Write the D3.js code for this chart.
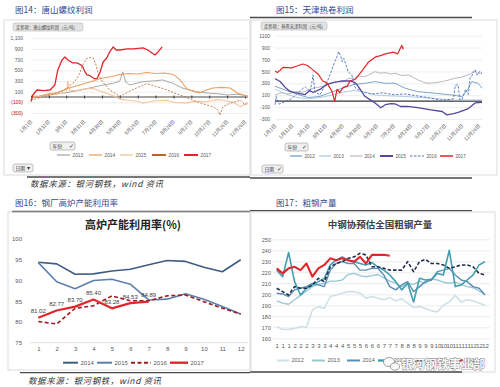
<!DOCTYPE html>
<html>
<head>
  <meta charset='utf-8'>
  <title>钢铁利润与产量</title>
  <script src='https://cdn.jsdelivr.net/npm/d3@7/dist/d3.min.js'></script>
  <style type='text/css'>
    body { margin: 0; background: #fff; }
    svg { display: block; }
  </style>
</head>
<body>
  <svg id='sheet' width='500' height='387'></svg>
  <script>
    // shared day-of-year ticks for the two profit charts
    const dateTicks = [1, 31, 60, 90, 120, 150, 180, 210, 240, 270, 300, 330, 360];
    const dateLabels = ['1月1日', '1月31日', '3月1日', '3月31日', '4月30日', '5月30日', '6月29日',
        '7月29日', '8月28日', '9月27日', '10月27日', '11月26日', '12月26日'];
    const profitTicks = [-300, -100, 100, 300, 500, 700, 900, 1100];

    // 图14 唐山螺纹利润 [day, 元/吨]
    const rebar2013 = [[1, -20], [20, 20], [40, 50], [60, 80], [80, 120], [100, 170], [120, 220], [140, 260],
        [150, 300], [155, 470], [160, 280], [167, 225], [189, 288], [205, 300], [222, 319], [239, 256],
        [256, 163], [279, 100], [301, 69], [315, 60], [330, 38], [345, 50], [357, 38], [365, 20]];
    const rebar2014 = [[1, -20], [15, 20], [30, 60], [45, 80], [60, 150], [75, 200], [90, 250], [105, 300],
        [120, 350], [135, 380], [150, 420], [165, 440], [180, 430], [195, 460], [210, 440], [225, 450],
        [240, 420], [250, 330], [263, 150], [275, 100], [284, 75], [295, 130], [306, 169], [320, 180],
        [335, 169], [347, 75], [356, 40], [365, 0]];
    const rebar2015 = [[1, 30], [15, 10], [30, 40], [45, 60], [60, 80], [63, 300], [66, 120], [75, 120],
        [90, 150], [105, 160], [120, 100], [130, 60], [140, 20], [150, -40], [165, -60], [180, -80],
        [189, -119], [195, -100], [210, -70], [229, -60], [240, -100], [263, -110], [275, -80], [296, -90],
        [310, -50], [323, -60], [340, -100], [352, -181], [365, -100]];
    const rebar2016 = [[1, -60], [10, -30], [25, 20], [40, 60], [55, 120], [65, 200], [75, 300], [82, 420],
        [88, 600], [94, 720], [100, 740], [106, 730], [110, 600], [114, 420], [120, 300], [133, 131],
        [150, 10], [165, 100], [180, 180], [195, 250], [210, 200], [225, 150], [240, 80], [255, 20],
        [270, -50], [279, -88], [296, -150], [306, -181], [315, -244], [318, -338], [323, -181],
        [335, -119], [352, -56], [360, -150], [365, -120]];
    const rebar2017 = [[1, -88], [4, 38], [11, 131], [22, 120], [33, 131], [41, 225], [46, 506], [53, 694],
        [58, 750], [63, 694], [71, 638], [78, 638], [85, 600], [88, 563], [91, 480], [95, 413], [100, 400],
        [103, 375], [108, 338], [112, 350], [117, 469], [122, 656], [128, 731], [133, 844], [139, 938],
        [144, 881], [150, 881], [162, 900], [172, 900], [189, 919], [197, 881], [204, 825], [209, 788],
        [214, 844], [221, 938]];

    // 图15 天津热卷利润 [day, 元/吨]
    const hrc2012 = [[1, 250], [15, 200], [30, 150], [45, 100], [60, 60], [80, 80], [100, 150], [120, 220],
        [140, 280], [160, 301], [177, 328], [195, 300], [212, 301], [230, 217], [252, 160], [282, 133],
        [312, 104], [330, 76], [340, 200], [347, 328], [358, 301], [365, 217]];
    const hrc2013 = [[1, 200], [20, 120], [40, 60], [60, 40], [80, 60], [100, 100], [120, 150], [140, 180],
        [160, 150], [177, 104], [200, 90], [235, 76], [260, 60], [282, 49], [300, 30], [317, 20],
        [340, 20], [365, 20]];
    const hrc2014 = [[1, 100], [12, 140], [25, 120], [38, 160], [50, 150], [62, 200], [75, 230], [90, 260],
        [100, 300], [110, 330], [120, 320], [130, 380], [140, 390], [150, 420], [158, 410], [165, 440],
        [177, 496], [186, 470], [195, 480], [205, 455], [212, 469], [224, 430], [235, 440], [244, 400],
        [252, 356], [262, 320], [270, 300], [282, 310], [295, 328], [305, 350], [317, 385], [328, 400],
        [340, 440], [347, 470], [353, 496], [360, 460], [365, 470]];
    const hrc2015 = [[1, 380], [3, 368], [10, 330], [19, 231], [27, 168], [36, 145], [54, 111], [62, 180],
        [68, 145], [80, 197], [92, 282], [103, 311], [119, 339], [133, 339], [142, 311], [147, 253],
        [159, 82], [168, 26], [177, -31], [187, -111], [195, -60], [205, -40], [212, -45], [222, -90],
        [234, -89], [252, -110], [275, -145], [295, -174], [303, -231], [315, -210], [323, -190],
        [340, -130], [353, -30], [365, -20]];
    const hrc2016 = [[1, -60], [3, 80], [8, -50], [19, -8], [30, 40], [41, 138], [54, 244], [63, 160],
        [68, 440], [71, 160], [80, 104], [89, 272], [94, 356], [101, 524], [106, 664], [110, 748],
        [113, 832], [117, 748], [119, 664], [122, 720], [128, 553], [129, 496], [136, 440], [142, 222],
        [154, 160], [170, 120], [190, 140], [210, 110], [230, 120], [250, 90], [270, 60], [290, 20],
        [300, 20], [315, 40], [318, 270], [323, 272], [326, 20], [330, 30], [336, 200], [341, 110],
        [344, 400], [347, 420], [350, 500], [353, 530], [356, 440], [358, 450], [361, 500], [365, 470]];
    const hrc2017 = [[1, 509], [5, 480], [10, 520], [15, 567], [30, 560], [41, 595], [50, 624], [58, 600],
        [66, 538], [77, 453], [85, 339], [92, 311], [101, 168], [106, -3], [110, 197], [115, 145],
        [121, 231], [128, 253], [133, 339], [142, 368], [154, 509], [165, 653], [177, 739], [188, 770],
        [195, 795], [209, 824], [217, 795], [221, 880], [224, 937], [226, 880], [227, 900]];

    // 图16 高炉产能利用率 (%)
    const months = [1, 2, 3, 4, 5, 6, 7, 8, 9, 10, 11, 12];
    const bfTicks = [75, 80, 85, 90, 95, 100];
    const bf2014 = [94.4, 94.0, 91.5, 91.6, 92.3, 92.7, 93.8, 94.8, 94.6, 93.2, 92.1, 95.0];
    const bf2015 = [94.3, 89.7, 88.0, 90.0, 90.3, 89.1, 85.3, 85.5, 86.8, 85.5, 83.7, 81.9];
    const bf2016 = [80.1, 79.5, 83.3, 83.9, 86.3, 85.1, 85.1, 86.3, 86.5, 84.9, 83.3, 81.9];
    const bf2017 = [81.02, 82.77, 83.70, 85.40, 83.28, 84.53, 84.89];

    // 图17 中钢协预估全国粗钢产量, three readings per month
    const dekadLabels = ['1', '1', '1', '2', '2', '2', '3', '3', '3', '4', '4', '4', '5', '5', '5', '6', '6', '6',
        '7', '7', '7', '8', '8', '8', '9', '9', '9', '10', '10', '10', '11', '11', '11', '12', '12', '12'];
    const steelTicks = [160, 170, 180, 190, 200, 210, 220, 230, 240, 250];
    const steel2012 = [170.6, 168, 168, 169, 170.6, 170, 185.8, 188.8, 187.3, 198, 199.4, 201, 202.4, 202.4,
        201, 196.4, 198, 196.4, 195, 197, 194, 196, 192, 188, 189, 187, 185, 184, 190, 193, 199, 193, 195, 194,
        192, 190];
    const steel2013 = [194, 192, 191, 195, 199, 203, 207, 209, 210, 212, 212, 213, 218, 219, 217, 216, 217, 218,
        215, 212, 210, 207, 210, 209, 212, 210, 214, 213, 211, 210, 211, 209, 207, 206, 203, 200];
    const steel2014 = [201, 200.3, 198, 204, 205.5, 207, 210, 208.5, 207, 222, 228, 229.7, 228, 228, 222, 222,
        223.6, 223.6, 217.6, 207, 204, 208.5, 211.5, 202.4, 207, 211.5, 213, 220.6, 222, 223.6, 217.6, 213,
        211.5, 207, 205.5, 199.4];
    const steel2015 = [222, 216, 238, 211.5, 199.4, 205.5, 208.5, 211.5, 214.5, 226.7, 231, 234, 231, 229.7,
        228, 226.7, 228.8, 225, 222, 217.6, 211.5, 204, 210, 193, 214.5, 213, 213.6, 219, 217.6, 240, 207,
        208.5, 213, 217.6, 226.7, 229.7];
    const steel2016 = [205.5, 202.4, 199.4, 207, 205.5, 205.5, 208.5, 214.5, 211.5, 225, 228, 229.7, 232.7,
        234, 237.3, 235.8, 225, 225, 223.6, 222, 222, 222, 229.7, 220.6, 229.7, 231.8, 228, 228, 226.7, 223.6,
        225, 226.7, 226.7, 225, 219, 217.6];
    const steel2017 = [223.6, 219, 223.6, 225, 222, 228, 216, 223.6, 226.7, 232.7, 231, 232.7, 231, 229.7,
        234, 228, 235.8, 235.8, 236, 235];

    const svg = d3.select('#sheet');
    const cjk = "'Noto Sans CJK SC', sans-serif";
    const num = "'Liberation Sans', Arial, sans-serif";

    function frame(x, y, w, h) {
        svg.append('rect')
            .attr('x', x).attr('y', y).attr('width', w).attr('height', h)
            .attr('fill', 'none').attr('stroke', '#d2d2d2').attr('stroke-width', 0.8);
    }

    function rule(x1, x2, y) {
        svg.append('line')
            .attr('x1', x1).attr('x2', x2).attr('y1', y).attr('y2', y)
            .attr('stroke', '#4a4a4a').attr('stroke-width', 1.3);
    }

    function caption(x, y, text) {
        svg.append('text')
            .attr('x', x).attr('y', y)
            .attr('font-family', cjk).attr('font-size', 8.5).attr('fill', '#2f4a94')
            .text(text);
    }

    function source(x, y) {
        svg.append('text')
            .attr('x', x).attr('y', y)
            .attr('font-family', cjk).attr('font-size', 8.5).attr('font-style', 'italic')
            .attr('fill', '#333').attr('letter-spacing', 0.6)
            .text('数据来源：银河钢铁，wind 资讯');
    }

    // small widget buttons of the terminal screenshots
    function button(x, y, w, label, mark) {
        const b = svg.append('g');
        b.append('rect')
            .attr('x', x).attr('y', y).attr('width', w).attr('height', 8).attr('rx', 2)
            .attr('fill', '#f0f0f0').attr('stroke', '#9c9c9c').attr('stroke-width', 0.6);
        b.append('text')
            .attr('x', x + 2.5).attr('y', y + 5.8)
            .attr('font-family', cjk).attr('font-size', 4.8).attr('fill', '#333')
            .text(label);
        b.append('text')
            .attr('x', x + w - 6).attr('y', y + 6)
            .attr('font-family', num).attr('font-size', 5.5).attr('fill', '#333')
            .text(mark);
    }

    function legend(items, y) {
        items.forEach(it => {
            svg.append('line')
                .attr('x1', it.x).attr('x2', it.x + it.len).attr('y1', y).attr('y2', y)
                .attr('stroke', it.color).attr('stroke-width', it.lw)
                .attr('stroke-dasharray', it.dash || null);
            svg.append('text')
                .attr('x', it.x + it.len + 2.5).attr('y', y).attr('dy', '0.35em')
                .attr('font-family', num).attr('font-size', it.fs).attr('fill', '#595959')
                .text(it.label);
        });
    }

    // draws one of the two daily profit charts
    function profitChart(o) {
        const x = d3.scaleLinear().domain([1, 365]).range(o.xRange);
        const y = d3.scaleLinear().domain([-300, 1100]).range(o.yRange);
        const [x0, x1] = o.xRange;
        const g = svg.append('g');

        const yAxis = g.append('g')
            .attr('transform', `translate(${x0},0)`)
            .call(d3.axisLeft(y).tickValues(profitTicks).tickFormat(o.fmt)
                .tickSize(-(x1 - x0)).tickPadding(o.labelPad));
        yAxis.select('.domain').remove();
        yAxis.selectAll('line').attr('stroke', '#e2e2e2').attr('stroke-width', 0.6);
        yAxis.selectAll('text')
            .attr('font-family', num).attr('font-size', 5)
            .attr('fill', d => d < 0 ? o.negColor : '#595959');

        g.append('line')
            .attr('x1', x0).attr('x2', x1).attr('y1', y(0)).attr('y2', y(0))
            .attr('stroke', o.zeroColor).attr('stroke-width', o.zeroWidth);
        if (o.zeroTicks) {
            const zt = g.append('g')
                .attr('transform', `translate(0,${y(0) - 1.5})`)
                .call(d3.axisBottom(x).tickValues(dateTicks).tickSize(3).tickFormat(''));
            zt.select('.domain').remove();
            zt.selectAll('line').attr('stroke', '#1a1a1a').attr('stroke-width', 0.8);
        }

        const line = d3.line().x(d => x(d[0])).y(d => y(d[1]));
        o.series.forEach(s => {
            g.append('path')
                .datum(s.data)
                .attr('d', line)
                .attr('fill', 'none')
                .attr('stroke', s.color)
                .attr('stroke-width', s.width)
                .attr('stroke-dasharray', s.dash || null)
                .attr('stroke-linejoin', 'round');
        });

        const xAxis = g.append('g')
            .attr('transform', `translate(0,${o.xLabelY})`)
            .call(d3.axisBottom(x).tickValues(dateTicks)
                .tickFormat((d, i) => dateLabels[i]).tickSize(0).tickPadding(0));
        xAxis.select('.domain').remove();
        xAxis.selectAll('text')
            .attr('y', 0).attr('dy', '0.35em')
            .attr('transform', 'rotate(-45)')
            .attr('text-anchor', 'end')
            .attr('font-family', cjk).attr('font-size', 5).attr('fill', '#595959');

        // title tag in the top left corner
        svg.append('rect')
            .attr('x', o.tag[0]).attr('y', o.tag[1]).attr('width', o.tag[2]).attr('height', 8).attr('rx', 2)
            .attr('fill', '#e4e4e4').attr('stroke', '#b5b5b5').attr('stroke-width', 0.6);
        svg.append('text')
            .attr('x', o.tag[0] + 3).attr('y', o.tag[1] + 5.6)
            .attr('font-family', cjk).attr('font-size', 4.3).attr('fill', '#444')
            .text(o.tagText);
    }

    // ---- 图14 ----
    frame(4, 20, 246, 155);
    caption(15, 13, '图14：唐山螺纹利润');
    profitChart({
        xRange: [31, 248], yRange: [113, 38.3], labelPad: 8, xLabelY: 121,
        fmt: d => d < 0 ? `(${-d})` : d3.format(',')(d), negColor: '#c00000',
        zeroColor: '#1a1a1a', zeroWidth: 0.8, zeroTicks: true,
        tag: [13, 23, 70], tagText: '走势项：唐山螺纹利润（元/吨）',
        series: [
            { data: rebar2013, color: '#a9a9a9', width: 1 },
            { data: rebar2015, color: '#f6c49a', width: 1.1 },
            { data: rebar2014, color: '#ee9f63', width: 1.1 },
            { data: rebar2016, color: '#b8652a', width: 0.8, dash: '2,1.5' },
            { data: rebar2017, color: '#e0262b', width: 1.3 }
        ]
    });
    button(50, 142, 25, '年份', '✓');
    button(13, 164, 20, '日期', '▾');
    legend([
        { x: 57, len: 13, color: '#a9a9a9', lw: 1.3, label: '2013', fs: 4.8 },
        { x: 89, len: 13, color: '#ee9f63', lw: 1.3, label: '2014', fs: 4.8 },
        { x: 120, len: 13, color: '#f6c49a', lw: 1.3, label: '2015', fs: 4.8 },
        { x: 152, len: 14, color: '#b8652a', lw: 2, label: '2016', fs: 4.8 },
        { x: 184, len: 14, color: '#e0262b', lw: 2, label: '2017', fs: 4.8 }
    ], 155);
    rule(27, 250, 177);
    source(30, 187);

    // ---- 图15 ----
    frame(251, 20, 246, 155);
    caption(276, 13, '图15：天津热卷利润');
    rule(250, 472, 17.5);
    profitChart({
        xRange: [275, 482], yRange: [119, 35.7], labelPad: 5, xLabelY: 125,
        fmt: d => String(d), negColor: '#595959',
        zeroColor: '#333', zeroWidth: 1.3, zeroTicks: false,
        tag: [261, 22, 66], tagText: '走势项：热卷天津利润（元/吨）',
        series: [
            { data: hrc2013, color: '#a9c6e4', width: 0.9 },
            { data: hrc2012, color: '#6f9ac4', width: 0.9 },
            { data: hrc2014, color: '#b9b9bf', width: 1 },
            { data: hrc2015, color: '#55479b', width: 1.3 },
            { data: hrc2016, color: '#4a72c0', width: 0.9, dash: '2.5,1.5' },
            { data: hrc2017, color: '#e0262b', width: 1.2 }
        ]
    });
    button(285, 143, 23, '年份', '✓');
    button(262, 165, 21, '日期', '✓');
    legend([
        { x: 290, len: 12, color: '#6f9ac4', lw: 1.2, label: '2012', fs: 4.6 },
        { x: 319, len: 12, color: '#a9c6e4', lw: 1.2, label: '2013', fs: 4.6 },
        { x: 350, len: 12, color: '#b9b9bf', lw: 1.2, label: '2014', fs: 4.6 },
        { x: 380, len: 13, color: '#55479b', lw: 2, label: '2015', fs: 4.6 },
        { x: 410, len: 14, color: '#4a72c0', lw: 1.2, dash: '2.5,1.5', label: '2016', fs: 4.6 },
        { x: 440, len: 13, color: '#e0262b', lw: 1.5, label: '2017', fs: 4.6 }
    ], 156);
    rule(250, 472, 178);

    // ---- 图16 ----
    caption(15, 206, '图16：钢厂高炉产能利用率');
    rule(12, 250, 211.5);
    frame(8, 212, 242, 158);
    const bfX = d3.scaleLinear().domain([1, 12]).range([38.3, 240.7]);
    const bfY = d3.scaleLinear().domain([75, 100]).range([342.7, 239]);
    svg.append('text')
        .attr('x', 133).attr('y', 225).attr('dy', '0.35em').attr('text-anchor', 'middle')
        .attr('font-family', cjk).attr('font-size', 11).attr('font-weight', 'bold').attr('fill', '#222')
        .text('高炉产能利用率(%)');
    const bfYAxis = svg.append('g')
        .attr('transform', 'translate(30,0)')
        .call(d3.axisLeft(bfY).tickValues(bfTicks).tickSize(0).tickPadding(8));
    bfYAxis.select('.domain').remove();
    bfYAxis.selectAll('text').attr('font-family', num).attr('font-size', 6).attr('fill', '#595959');
    svg.append('line')
        .attr('x1', bfX(0.55)).attr('x2', bfX(12.4)).attr('y1', bfY(75)).attr('y2', bfY(75))
        .attr('stroke', '#d6d6d6').attr('stroke-width', 0.8);
    const bfXAxis = svg.append('g')
        .attr('transform', `translate(0,${bfY(75)})`)
        .call(d3.axisBottom(bfX).tickValues(months).tickFormat(d3.format('d')).tickSize(0).tickPadding(4));
    bfXAxis.select('.domain').remove();
    bfXAxis.selectAll('text').attr('font-family', num).attr('font-size', 6).attr('fill', '#595959');

    const bfLine = d3.line().x((d, i) => bfX(months[i])).y(d => bfY(d));
    [
        { data: bf2014, color: '#3e5c84', width: 1.6 },
        { data: bf2015, color: '#5b80ad', width: 1.6 },
        { data: bf2016, color: '#9b1c22', width: 1.6, dash: '4,2.5' },
        { data: bf2017, color: '#e3262b', width: 2.2 }
    ].forEach(s => {
        svg.append('path')
            .datum(s.data).attr('d', bfLine)
            .attr('fill', 'none').attr('stroke', s.color).attr('stroke-width', s.width)
            .attr('stroke-dasharray', s.dash || null).attr('stroke-linejoin', 'round');
    });
    svg.selectAll('.bf-label')
        .data(bf2017)
        .enter().append('text')
        .attr('class', 'bf-label')
        .attr('x', (d, i) => bfX(months[i]))
        .attr('y', d => bfY(d) - 4.5)
        .attr('text-anchor', 'middle')
        .attr('font-family', num).attr('font-size', 6).attr('fill', '#404040')
        .text(d => d.toFixed(2));
    legend([
        { x: 63, len: 15, color: '#3e5c84', lw: 2, label: '2014', fs: 6 },
        { x: 97, len: 15, color: '#5b80ad', lw: 2, label: '2015', fs: 6 },
        { x: 131, len: 20, color: '#9b1c22', lw: 2, dash: '4,2.5', label: '2016', fs: 6 },
        { x: 170, len: 18, color: '#e3262b', lw: 2.4, label: '2017', fs: 6 }
    ], 362.7);
    rule(20, 250, 372.7);
    source(28, 384);

    // ---- 图17 ----
    caption(276, 206, '图17：粗钢产量');
    rule(250, 472, 210.7);
    frame(251, 212, 244, 160);
    const stX = d3.scaleLinear().domain([0, 35]).range([276.7, 485]);
    const stY = d3.scaleLinear().domain([160, 250]).range([338.3, 239.3]);
    svg.append('text')
        .attr('x', 380).attr('y', 225).attr('dy', '0.35em').attr('text-anchor', 'middle')
        .attr('font-family', cjk).attr('font-size', 9.5).attr('font-weight', 'bold').attr('fill', '#404040')
        .text('中钢协预估全国粗钢产量');
    const stYAxis = svg.append('g')
        .attr('transform', 'translate(273,0)')
        .call(d3.axisLeft(stY).tickValues(steelTicks).tickSize(-217).tickPadding(2));
    stYAxis.select('.domain').remove();
    stYAxis.selectAll('line').attr('stroke', '#e2e2e2').attr('stroke-width', 0.7);
    stYAxis.selectAll('text').attr('font-family', num).attr('font-size', 5.5).attr('fill', '#595959');
    const stXAxis = svg.append('g')
        .attr('transform', `translate(0,${stY(160)})`)
        .call(d3.axisBottom(stX).tickValues(d3.range(36))
            .tickFormat((d, i) => dekadLabels[i]).tickSize(0).tickPadding(5));
    stXAxis.select('.domain').remove();
    stXAxis.selectAll('text').attr('font-family', num).attr('font-size', 6).attr('fill', '#595959');

    const stLine = d3.line().x((d, i) => stX(i)).y(d => stY(d));
    [
        { data: steel2012, color: '#cde1e6', width: 1.6 },
        { data: steel2013, color: '#9bc8d6', width: 1.4 },
        { data: steel2014, color: '#5c8db3', width: 1.4 },
        { data: steel2015, color: '#3f9fb1', width: 1.6 },
        { data: steel2016, color: '#1f2d50', width: 1.6, dash: '3.5,2' },
        { data: steel2017, color: '#e0262b', width: 2.1 }
    ].forEach(s => {
        svg.append('path')
            .datum(s.data).attr('d', stLine)
            .attr('fill', 'none').attr('stroke', s.color).attr('stroke-width', s.width)
            .attr('stroke-dasharray', s.dash || null).attr('stroke-linejoin', 'round');
    });
    legend([
        { x: 277, len: 12, color: '#cde1e6', lw: 2, label: '2012', fs: 5.5 },
        { x: 312, len: 13, color: '#9bc8d6', lw: 2, label: '2013', fs: 5.5 },
        { x: 347, len: 13, color: '#5c8db3', lw: 2, label: '2014', fs: 5.5 },
        { x: 378, len: 13, color: '#3f9fb1', lw: 2.4, label: '2015', fs: 5.5 },
        { x: 415, len: 13, color: '#1f2d50', lw: 2, dash: '3.5,2', label: '2016', fs: 5.5 },
        { x: 450, len: 13, color: '#e0262b', lw: 2.4, label: '2017', fs: 5.5 }
    ], 360.5);
    rule(250, 462, 372);

    // watermark over the bottom right corner
    const wm = svg.append('g');
    wm.append('ellipse')
        .attr('cx', 389).attr('cy', 362).attr('rx', 5.5).attr('ry', 4.5)
        .attr('fill', '#fafafa').attr('stroke', '#8a8a8a').attr('stroke-width', 0.8);
    wm.append('ellipse')
        .attr('cx', 395).attr('cy', 366.5).attr('rx', 4.5).attr('ry', 3.6)
        .attr('fill', '#fafafa').attr('stroke', '#8a8a8a').attr('stroke-width', 0.8);
    wm.append('text')
        .attr('x', 401).attr('y', 369)
        .attr('font-family', cjk).attr('font-size', 12).attr('font-weight', 'bold')
        .attr('fill', '#f7f7f7').attr('stroke', '#7d7d7d').attr('stroke-width', 0.8)
        .attr('paint-order', 'stroke')
        .text('银河钢铁事业部');
  </script>
</body>
</html>
